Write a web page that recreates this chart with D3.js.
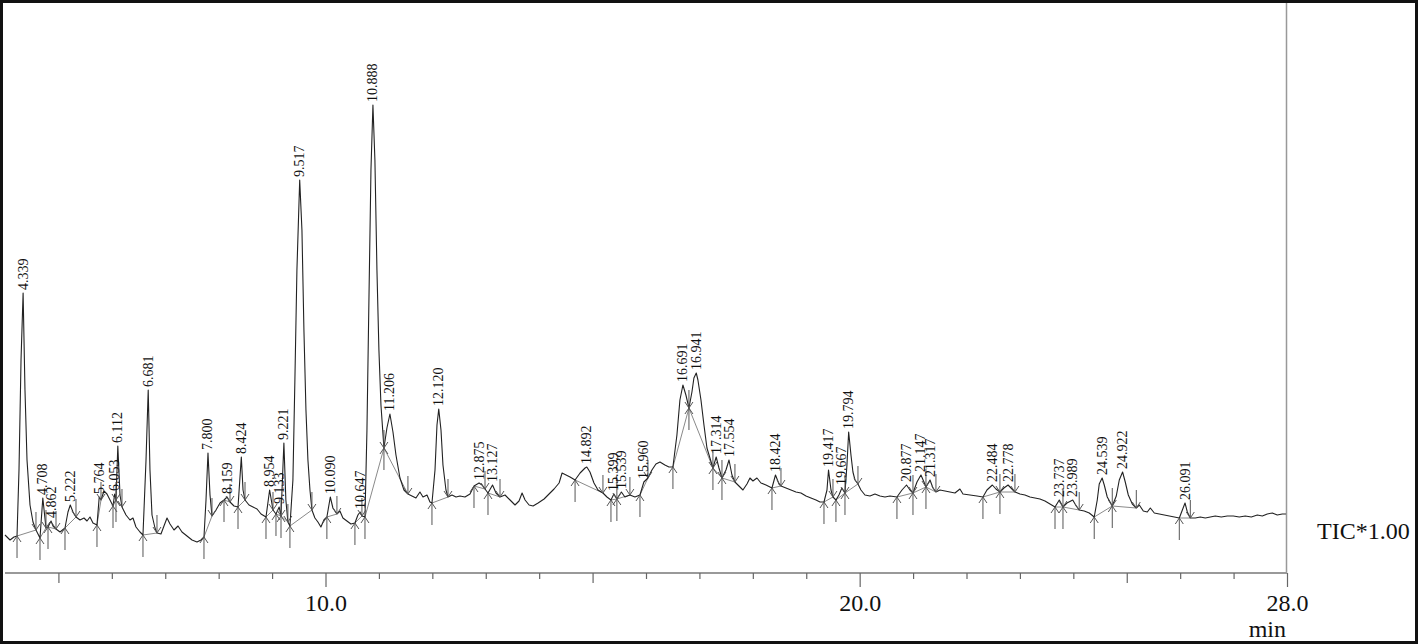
<!DOCTYPE html>
<html>
<head>
<meta charset="utf-8">
<script src="https://cdn.jsdelivr.net/npm/d3@7"></script>
<style>
  body { margin:0; background:#fff; }
  text { font-family:"Liberation Serif","Times New Roman",serif; fill:#111; }
</style>
</head>
<body>
<svg id="chrom"></svg>
<script>
// retention time (min) and TIC intensity (arbitrary units) of the trace
var traceTime = [4.000,4.094,4.168,4.225,4.262,4.300,4.339,4.374,4.412,4.468,4.524,4.580,4.655,4.708,4.767,4.805,4.862,4.899,4.955,5.030,
  5.123,5.179,5.222,5.273,5.329,5.404,5.479,5.535,5.591,5.647,5.722,5.764,5.797,5.853,5.909,5.966,6.022,6.053,6.078,6.112,
  6.153,6.190,6.265,6.340,6.396,6.452,6.527,6.583,6.640,6.681,6.714,6.752,6.808,6.845,6.920,6.976,7.033,7.089,7.164,7.239,
  7.313,7.407,7.501,7.594,7.669,7.725,7.763,7.800,7.838,7.875,7.950,8.025,8.100,8.159,8.212,8.287,8.362,8.424,8.456,8.493,
  8.568,8.643,8.718,8.793,8.886,8.954,9.017,9.073,9.133,9.167,9.221,9.258,9.296,9.334,9.390,9.427,9.465,9.517,9.559,9.596,
  9.634,9.671,9.709,9.746,9.802,9.858,9.914,9.970,10.026,10.090,10.139,10.214,10.270,10.326,10.401,10.476,10.551,10.607,10.647,10.682,
  10.739,10.776,10.813,10.851,10.888,10.925,10.963,11.000,11.038,11.094,11.150,11.206,11.263,11.319,11.394,11.469,11.543,11.618,11.693,11.768,
  11.825,11.900,11.956,11.993,12.050,12.087,12.120,12.162,12.199,12.255,12.293,12.368,12.443,12.517,12.611,12.705,12.780,12.875,12.930,12.986,
  13.042,13.127,13.192,13.267,13.361,13.455,13.548,13.623,13.680,13.736,13.811,13.886,13.980,14.092,14.185,14.279,14.373,14.429,14.504,14.578,
  14.672,14.766,14.859,14.892,14.951,15.026,15.101,15.194,15.269,15.344,15.399,15.455,15.539,15.605,15.699,15.793,15.887,15.960,16.036,16.111,
  16.186,16.261,16.354,16.429,16.504,16.579,16.635,16.691,16.747,16.804,16.860,16.897,16.941,16.972,17.029,17.085,17.141,17.197,17.253,17.314,
  17.366,17.422,17.497,17.554,17.609,17.665,17.740,17.815,17.890,17.946,18.002,18.077,18.152,18.246,18.358,18.424,18.490,18.527,18.620,18.714,
  18.807,18.901,18.995,19.088,19.182,19.257,19.332,19.388,19.417,19.463,19.500,19.556,19.612,19.667,19.725,19.762,19.794,19.837,19.874,19.912,
  19.968,20.024,20.099,20.193,20.286,20.380,20.474,20.567,20.698,20.792,20.877,20.942,20.998,21.073,21.147,21.204,21.241,21.317,21.372,21.428,
  21.503,21.597,21.690,21.784,21.877,21.934,22.065,22.196,22.308,22.383,22.484,22.551,22.626,22.701,22.778,22.851,22.907,23.001,23.094,23.188,
  23.282,23.375,23.469,23.563,23.657,23.737,23.806,23.881,23.989,24.054,24.110,24.204,24.298,24.391,24.448,24.485,24.539,24.579,24.635,24.729,
  24.804,24.860,24.922,24.972,25.029,25.104,25.179,25.235,25.310,25.385,25.441,25.516,25.609,25.703,25.797,25.891,25.984,26.041,26.091,26.134,
  26.190,26.283,26.377,26.471,26.564,26.658,26.770,26.882,26.995,27.107,27.219,27.332,27.444,27.538,27.631,27.725,27.818,27.912,27.980];

var traceIntensity = [37,32,35,36,102,212,279,182,112,67,50,42,34,74,44,45,51,46,43,40,
  44,60,67,60,55,52,54,51,55,49,47,75,72,81,78,72,66,78,72,126,
  77,65,57,52,54,45,40,37,112,182,102,57,44,39,38,46,54,48,42,46,
  40,36,32,30,32,35,72,119,77,56,62,69,72,75,70,66,65,115,82,72,
  67,65,63,58,55,82,62,58,65,56,129,72,50,46,92,192,302,392,342,242,
  162,112,82,62,54,50,45,52,55,75,64,58,61,54,51,48,49,57,60,56,
  55,142,272,402,467,412,302,222,167,124,144,158,140,117,94,82,78,76,74,80,
  75,77,70,69,102,147,163,142,107,82,75,77,75,76,75,78,86,89,87,83,
  79,87,79,75,77,72,67,71,79,72,67,66,69,73,78,83,89,99,97,95,
  92,99,104,105,100,89,82,79,75,72,78,73,80,75,77,75,77,90,94,102,
  108,110,107,105,105,137,172,187,177,164,180,194,199,192,172,147,124,114,104,115,
  104,94,102,112,97,90,86,82,88,94,91,94,89,87,84,97,88,86,84,82,
  80,79,76,74,72,70,70,82,102,82,75,72,77,84,79,107,140,117,100,92,
  88,82,77,76,78,76,75,76,75,82,87,82,79,90,97,90,85,92,84,80,
  82,81,80,79,83,78,77,76,75,82,87,83,80,84,87,83,80,78,77,75,
  74,73,71,68,65,72,65,69,72,66,62,61,59,55,72,88,94,87,75,66,
  76,92,100,90,77,68,64,67,61,60,64,59,58,57,56,55,54,62,69,60,
  54,54,55,54,55,56,55,56,56,55,56,55,57,56,58,59,57,58,58];

// integrated peaks: label, start time, start intensity, apex intensity, end time, end intensity
var peakLabels = ["4.339","4.708","4.862","5.222","5.764","6.053","6.112","6.681","7.800","8.159","8.424",
  "8.954","9.133","9.221","9.517","10.090","10.647","10.888","11.206","12.120","12.875","13.127",
  "14.892","15.399","15.539","15.960","16.691","16.941","17.314","17.554","18.424","19.417","19.667",
  "19.794","20.877","21.147","21.317","22.484","22.778","23.737","23.989","24.539","24.922","26.091"];
var peakStartTime = [4.225,4.655,4.805,5.123,5.722,6.022,6.078,6.583,7.725,8.100,8.362,
  8.886,9.073,9.167,9.334,10.026,10.551,10.739,11.094,11.993,12.780,13.042,
  14.672,15.344,15.455,15.887,16.504,16.804,17.253,17.422,18.358,19.332,19.556,
  19.725,20.698,20.998,21.241,22.308,22.626,23.657,23.806,24.391,24.729,25.984];
var peakStartInt = [36,34,45,44,47,66,72,37,35,72,65,55,58,56,46,55,49,55,124,69,86,79,
  92,72,73,77,105,164,104,94,84,70,72,79,75,79,85,75,80,65,65,55,66,54];
var peakApexInt = [279,74,51,67,75,78,126,182,119,75,115,82,65,129,392,75,60,467,158,163,89,87,
  105,78,80,90,187,199,115,112,97,102,84,140,87,97,92,87,87,72,72,94,100,69];
var peakEndTime = [4.580,4.767,4.955,5.329,5.797,6.078,6.190,6.845,7.875,8.212,8.493,
  9.017,9.167,9.296,9.746,10.214,10.682,11.094,11.543,12.293,12.986,13.267,
  15.194,15.455,15.699,16.036,16.804,17.253,17.422,17.665,18.527,19.500,19.725,
  19.968,20.998,21.241,21.428,22.626,22.907,23.806,24.110,24.729,25.179,26.190];
var peakEndInt = [42,44,43,55,72,72,65,39,56,70,72,62,56,50,62,58,56,124,78,75,83,75,
  79,73,77,94,164,104,94,90,86,75,79,88,79,85,80,80,80,65,62,66,64,54];

var tickValues = d3.range(5, 29);
var tickLabelValues = [10, 20, 28];
var tickLabels = ["10.0", "20.0", "28.0"];

var drawChart = function(target)
{
    var screen = {width:1418, height:644};
    var plot = {left:5, right:1287, top:3, axisY:573};

    var svg = d3.select(target)
        .attr("width", screen.width)
        .attr("height", screen.height);

    var xScale = d3.scaleLinear()
        .domain([4, 28])
        .range([plot.left, plot.right]);

    var yScale = d3.scaleLinear()
        .domain([0, 480])
        .range([572, 92]);

    // right edge of the plot area
    svg.append("line")
        .attr("x1", 1286.5).attr("x2", 1286.5)
        .attr("y1", plot.top).attr("y2", plot.axisY)
        .attr("stroke", "#999").attr("stroke-width", 1.5);

    // time axis
    var xAxis = d3.axisBottom(xScale)
        .tickValues(tickValues)
        .tickSize(6)
        .tickFormat(function(d){
            var i = tickLabelValues.indexOf(d);
            return i >= 0 ? tickLabels[i] : "";
        });

    var axis = svg.append("g")
        .attr("transform", "translate(0," + plot.axisY + ")")
        .call(xAxis);

    axis.select(".domain")
        .attr("stroke", "#999")
        .attr("stroke-width", 2)
        .attr("d", "M" + plot.left + ",0H" + plot.right);

    axis.selectAll(".tick line")
        .attr("stroke", "#666")
        .attr("stroke-width", 1.2)
        .attr("y2", function(d){
            if (tickLabelValues.indexOf(d) >= 0) return 14;
            if (d % 5 == 0) return 10;
            return 6;
        });

    axis.selectAll(".tick text")
        .attr("y", 38)
        .attr("dy", 0)
        .attr("font-size", 24)
        .attr("fill", "#111");

    svg.append("text")
        .attr("x", 1286).attr("y", 637)
        .attr("text-anchor", "end")
        .attr("font-size", 24)
        .text("min");

    svg.append("text")
        .attr("x", 1317).attr("y", 539)
        .attr("font-size", 24)
        .text("TIC*1.00");

    var peaks = peakLabels.map(function(label, i){
        return {label:label, rt:+label,
                t0:peakStartTime[i], i0:peakStartInt[i],
                top:peakApexInt[i],
                t1:peakEndTime[i], i1:peakEndInt[i]};
    });

    // integration baselines
    svg.append("g")
        .selectAll("line")
        .data(peaks)
        .enter()
        .append("line")
        .attr("x1", function(p){ return xScale(p.t0); })
        .attr("y1", function(p){ return yScale(p.i0); })
        .attr("x2", function(p){ return xScale(p.t1); })
        .attr("y2", function(p){ return yScale(p.i1); })
        .attr("stroke", "#8a8a8a")
        .attr("stroke-width", 1);

    // the TIC trace
    var line = d3.line()
        .x(function(d){ return xScale(d[0]); })
        .y(function(d){ return yScale(d[1]); });

    svg.append("path")
        .datum(d3.zip(traceTime, traceIntensity))
        .attr("d", line)
        .attr("fill", "none")
        .attr("stroke", "#222")
        .attr("stroke-width", 1.1)
        .attr("stroke-linejoin", "round");

    // start (up) and end (down) markers
    var marks = svg.append("g")
        .attr("stroke", "#555")
        .attr("stroke-width", 1)
        .attr("fill", "none");

    marks.selectAll("path.up")
        .data(peaks)
        .enter()
        .append("path")
        .attr("d", function(p){
            var x = xScale(p.t0), y = yScale(p.i0);
            return "M" + x + "," + (y + 22) + "V" + y +
                   "M" + (x - 4) + "," + (y + 6) + "L" + x + "," + y + "L" + (x + 4) + "," + (y + 6);
        });

    marks.selectAll("path.down")
        .data(peaks)
        .enter()
        .append("path")
        .attr("d", function(p){
            var x = xScale(p.t1), y = yScale(p.i1);
            return "M" + x + "," + (y - 18) + "V" + y +
                   "M" + (x - 4) + "," + (y - 6) + "L" + x + "," + y + "L" + (x + 4) + "," + (y - 6);
        });

    // retention time labels
    svg.append("g")
        .selectAll("text")
        .data(peaks)
        .enter()
        .append("text")
        .attr("transform", function(p){
            return "translate(" + (xScale(p.rt) + 4.5) + "," + (yScale(p.top) - 3) + ") rotate(-90)";
        })
        .attr("font-size", 14)
        .text(function(p){ return p.label; });

    // outer frame
    svg.append("rect")
        .attr("x", 1.5).attr("y", 1.5)
        .attr("width", screen.width - 3).attr("height", screen.height - 3)
        .attr("fill", "none")
        .attr("stroke", "#111")
        .attr("stroke-width", 3);
}

drawChart("#chrom");
</script>
</body>
</html>
